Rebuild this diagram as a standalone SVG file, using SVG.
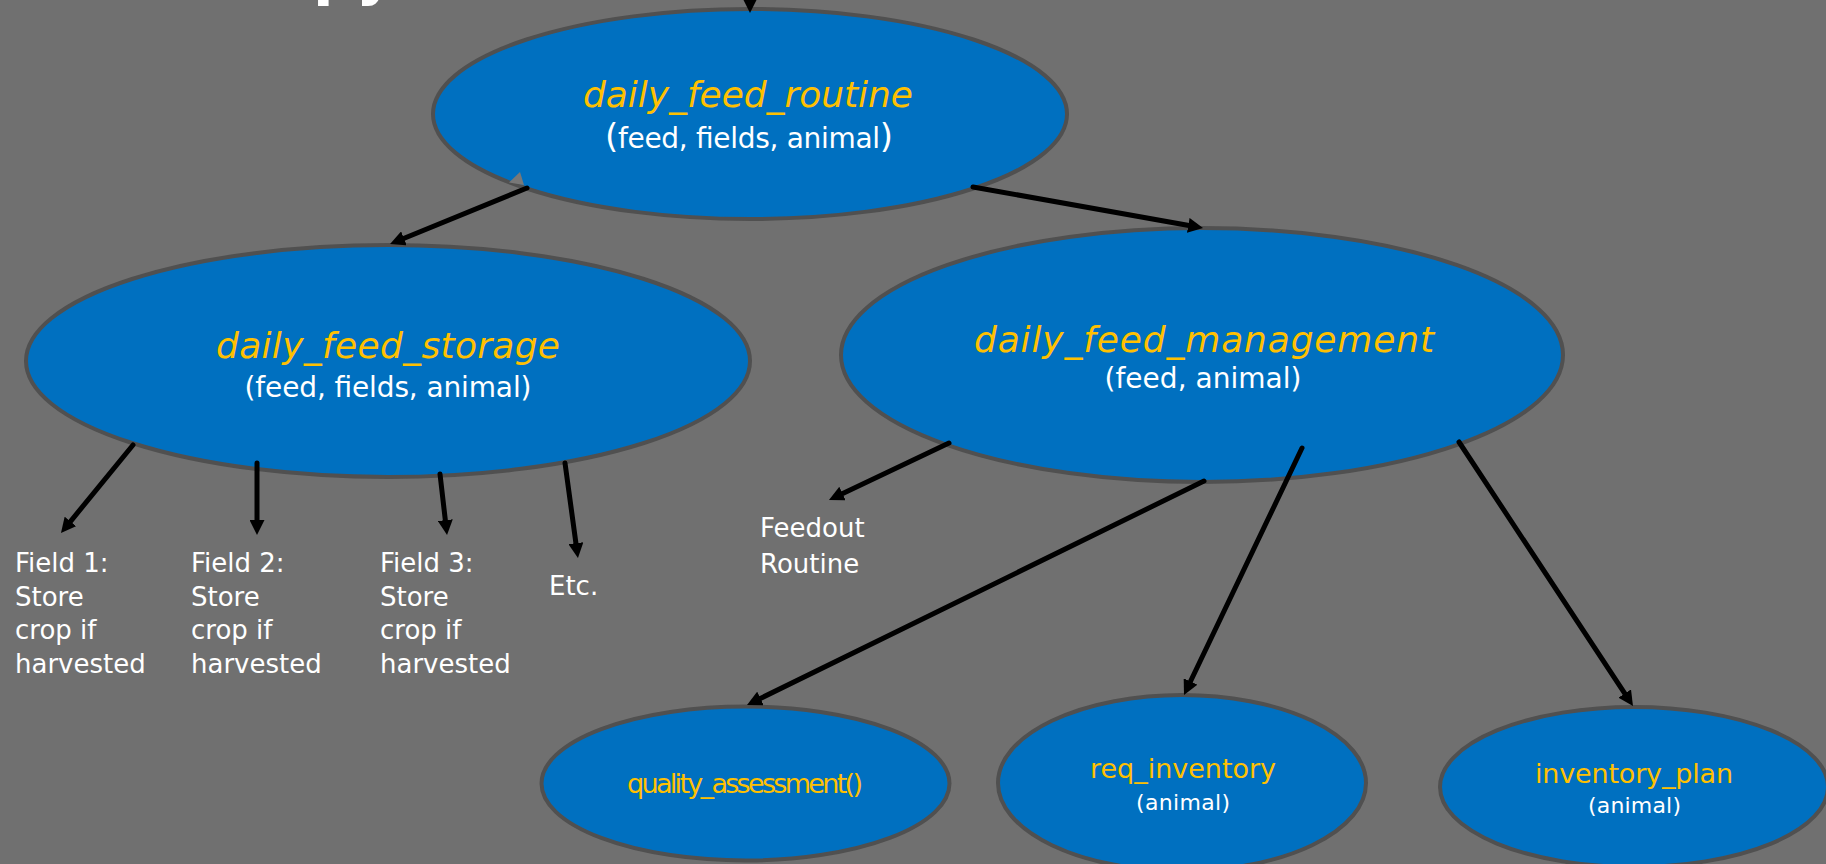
<svg xmlns="http://www.w3.org/2000/svg" width="1826" height="864" viewBox="0 0 1826 864">
  <style>
    .node { fill: #0070C0; stroke: #505050; stroke-width: 4; }
    .title { font-family: "DejaVu Sans", "Liberation Sans", sans-serif; font-style: italic; font-size: 36px; fill: #FFC000; text-anchor: middle; }
    .name { font-family: "DejaVu Sans", "Liberation Sans", sans-serif; font-size: 27px; fill: #FFC000; text-anchor: middle; }
    .args { font-family: "DejaVu Sans", "Liberation Sans", sans-serif; font-size: 28px; fill: #FFFFFF; text-anchor: middle; }
    .args-sm { font-family: "DejaVu Sans", "Liberation Sans", sans-serif; font-size: 22px; fill: #FFFFFF; text-anchor: middle; }
    .label { font-family: "DejaVu Sans", "Liberation Sans", sans-serif; font-size: 26px; fill: #FFFFFF; }
    .edge { stroke: #000000; stroke-width: 5; fill: none; stroke-linecap: round; marker-end: url(#head); }
  </style>
  <defs>
    <marker id="head" markerUnits="userSpaceOnUse" markerWidth="15" markerHeight="15" refX="5" refY="7.5" orient="auto">
      <path d="M0,0 L15,7.5 L0,15 Z" fill="#000000"/>
    </marker>
  </defs>

  <rect x="0" y="0" width="1826" height="864" fill="#707070"/>

  <!-- heading descenders peeking in at the top edge -->
  <text x="313" y="-7" font-family="DejaVu Sans, sans-serif" font-weight="bold" font-size="60" fill="#FFFFFF">py</text>

  <g id="node-daily-feed-routine">
    <ellipse class="node" cx="750" cy="114" rx="317" ry="105"/>
    <text class="title" x="748" y="107" textLength="330">daily_feed_routine</text>
    <text class="args" x="749" y="148" textLength="288"><tspan font-size="34">(</tspan>feed, fields, animal<tspan font-size="34">)</tspan></text>
  </g>

  <g id="node-daily-feed-storage">
    <ellipse class="node" cx="388" cy="361" rx="362" ry="116"/>
    <text class="title" x="388" y="358" textLength="344">daily_feed_storage</text>
    <text class="args" x="388" y="397" textLength="287">(feed, fields, animal)</text>
  </g>

  <g id="node-daily-feed-management">
    <ellipse class="node" cx="1202" cy="355" rx="361" ry="127"/>
    <text class="title" x="1204" y="352" textLength="460">daily_feed_management</text>
    <text class="args" x="1203" y="388" textLength="197">(feed, animal)</text>
  </g>

  <g id="node-quality-assessment">
    <ellipse class="node" cx="745.5" cy="783.5" rx="204" ry="77"/>
    <text class="name" x="745" y="793" font-size="21" textLength="236">quality_assessment()</text>
  </g>

  <g id="node-req-inventory">
    <ellipse class="node" cx="1182" cy="783" rx="184" ry="88"/>
    <text class="name" x="1183" y="778" textLength="186">req_inventory</text>
    <text class="args-sm" x="1183" y="810" textLength="94">(animal)</text>
  </g>

  <g id="node-inventory-plan">
    <ellipse class="node" cx="1634" cy="787" rx="194" ry="80"/>
    <text class="name" x="1634" y="783" textLength="198">inventory_plan</text>
    <text class="args-sm" x="1634.5" y="813" textLength="93">(animal)</text>
  </g>

  <g id="field-1">
    <text class="label" x="15" y="572">Field 1:</text>
    <text class="label" x="15" y="606">Store</text>
    <text class="label" x="15" y="639">crop if</text>
    <text class="label" x="15" y="673">harvested</text>
  </g>
  <g id="field-2">
    <text class="label" x="191" y="572">Field 2:</text>
    <text class="label" x="191" y="606">Store</text>
    <text class="label" x="191" y="639">crop if</text>
    <text class="label" x="191" y="673">harvested</text>
  </g>
  <g id="field-3">
    <text class="label" x="380" y="572">Field 3:</text>
    <text class="label" x="380" y="606">Store</text>
    <text class="label" x="380" y="639">crop if</text>
    <text class="label" x="380" y="673">harvested</text>
  </g>
  <g id="field-etc">
    <text class="label" x="549" y="595">Etc.</text>
  </g>
  <g id="feedout-routine">
    <text class="label" x="760" y="537">Feedout</text>
    <text class="label" x="760" y="573">Routine</text>
  </g>

  <g id="connectors">
    <line class="edge" x1="750" y1="-20" x2="750" y2="3"/>
    <line class="edge" x1="527" y1="188" x2="399.3" y2="240.2"/>
    <polygon points="520,172 509,182.5 524,185" fill="#787878"/>
    <line class="edge" x1="973" y1="187" x2="1193.2" y2="226.2"/>
    <line class="edge" x1="133" y1="445" x2="67.3" y2="525.3"/>
    <line class="edge" x1="257" y1="463" x2="257" y2="525"/>
    <line class="edge" x1="440" y1="474" x2="445.9" y2="525.1"/>
    <line class="edge" x1="565" y1="463" x2="576.6" y2="548.1"/>
    <line class="edge" x1="949" y1="443" x2="838" y2="495.7"/>
    <line class="edge" x1="1204" y1="481" x2="756" y2="700.6"/>
    <line class="edge" x1="1302" y1="448" x2="1188.3" y2="686"/>
    <line class="edge" x1="1459" y1="442" x2="1627.5" y2="697.7"/>
  </g>
</svg>
